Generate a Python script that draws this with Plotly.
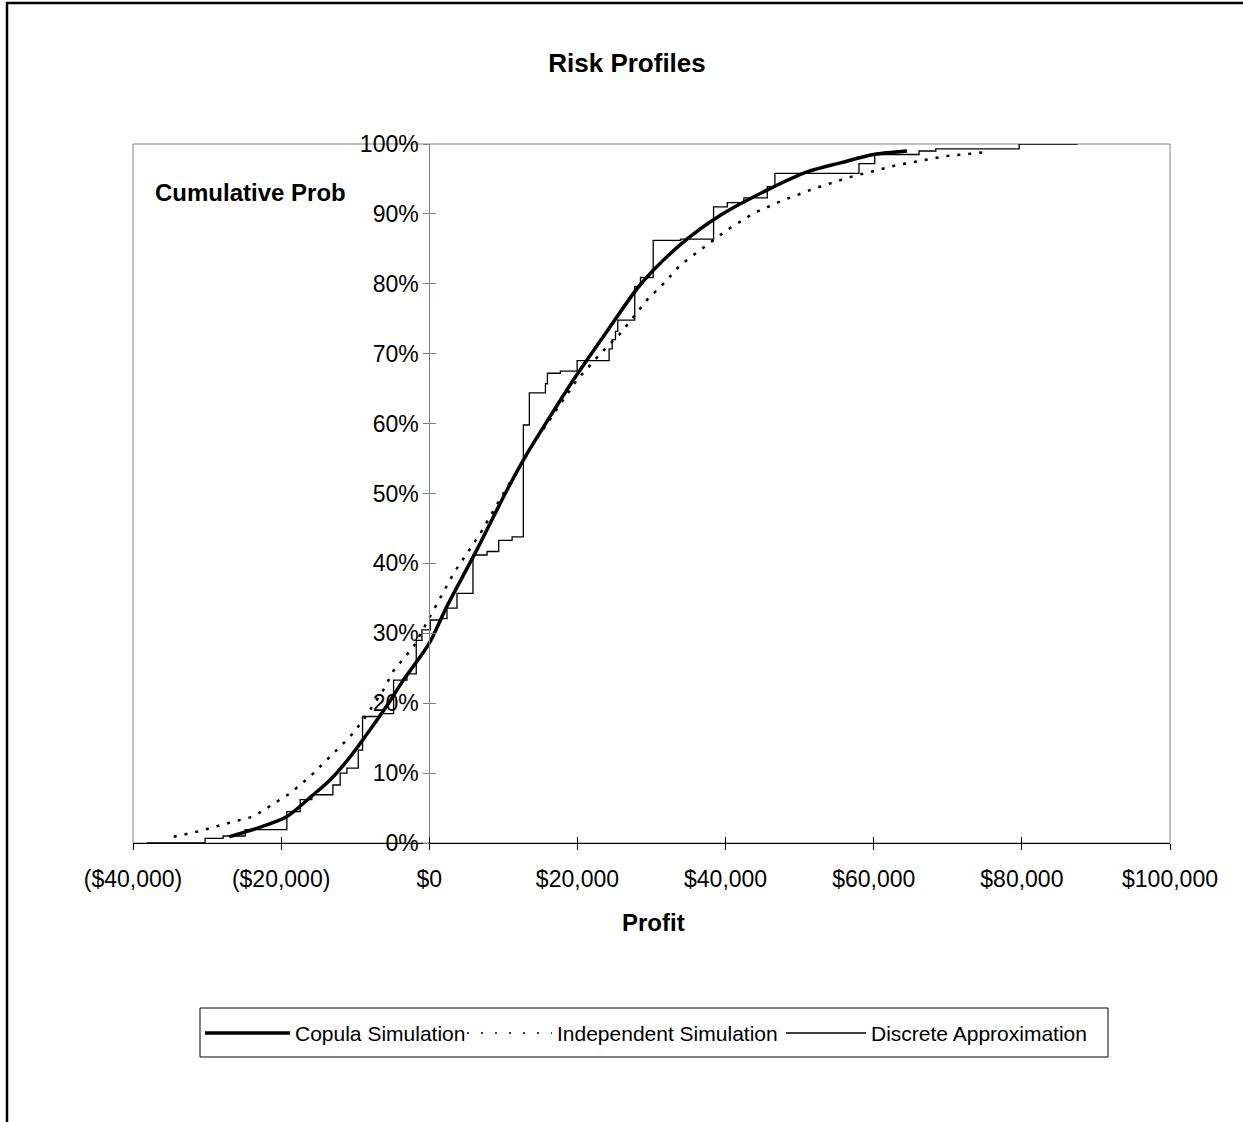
import plotly.graph_objects as go

# ---------------- data ----------------
copula_profit = [-27000, -23000, -19200, -16000, -13400, -10700, -8000, -5500, -3500, -100,
                 2400, 6400, 10500, 13200, 16000, 19500, 24000, 28500, 33900, 39300,
                 45600, 51000, 55500, 60000, 64500]
copula_prob = [0.9, 2.2, 3.8, 6.6, 9.0, 12.3, 16.2, 20.0, 23.3, 28.4,
               33.9, 41.9, 50.5, 55.7, 60.5, 66.3, 73.2, 79.9, 85.6, 89.8,
               93.4, 96.0, 97.3, 98.5, 99.0]

indep_profit = [-34500, -31400, -27300, -23700, -20600, -18800, -16100, -12900, -10700, -8900,
                -6200, -4800, -2100, 100, 3300, 6900, 10000, 14100, 19900, 23100,
                25800, 29400, 31700, 33900, 36600, 40200, 43800, 47400, 51900, 56900,
                63200, 70000, 74900]
indep_prob = [0.9, 1.6, 2.8, 3.8, 5.9, 7.1, 9.5, 12.8, 15.2, 17.6,
              21.9, 24.7, 28.1, 32.4, 38.6, 44.3, 50.0, 57.2, 66.2, 70.0,
              72.9, 77.7, 80.1, 82.7, 84.8, 87.7, 90.1, 91.8, 93.6, 95.3,
              97.0, 98.3, 98.8]

discrete_profit = [-38100, -30270, -27840, -24860, -19230, -17430, -15850, -13010, -12030, -11120,
                   -9590, -9010, -6620, -4820, -3010, -1760, -990, 135, 1490, 2390,
                   3740, 5900, 7800, 9370, 11180, 12700, 13510, 15680, 15950, 17700,
                   19960, 24280, 24690, 25140, 25450, 27740, 28510, 30230, 33920, 38380,
                   40230, 42470, 45630, 46660, 58010, 60140, 66120, 68380, 79640, 87530]
discrete_prob = [0.0, 0.67, 1.0, 1.9, 4.5, 6.2, 6.9, 8.3, 10.0, 10.7,
                 13.3, 18.1, 18.5, 23.3, 24.2, 29.0, 30.5, 31.9, 32.1, 33.6,
                 35.7, 41.2, 41.7, 43.3, 43.8, 59.8, 64.4, 65.7, 67.2, 67.5,
                 69.0, 70.7, 72.0, 73.2, 74.8, 79.6, 80.9, 86.2, 86.4, 91.0,
                 91.6, 92.3, 93.9, 95.8, 97.2, 98.5, 99.0, 99.3, 100.0, 100.0]

x_ticks = [-40000, -20000, 0, 20000, 40000, 60000, 80000, 100000]
x_tick_labels = ["($40,000)", "($20,000)", "$0", "$20,000", "$40,000", "$60,000", "$80,000", "$100,000"]
y_ticks = [0, 10, 20, 30, 40, 50, 60, 70, 80, 90, 100]
y_tick_labels = ["0%", "10%", "20%", "30%", "40%", "50%", "60%", "70%", "80%", "90%", "100%"]

series_names = ["Copula Simulation", "Independent Simulation", "Discrete Approximation"]

# ---------------- layout geometry ----------------
W, H = 1243, 1122
L, R, T, B = 133, 73, 144, 279
PW = W - L - R
PH = H - T - B
X_MIN, X_MAX = -40000, 100000


def pxx(x):
    return (x - L) / PW


def pxy(y):
    return (H - B - y) / PH


FONT = "Liberation Sans, Arial, sans-serif"
DOT = "3px,8px"

fig = go.Figure()
fig.add_trace(go.Scatter(x=copula_profit, y=copula_prob, mode="lines", name=series_names[0],
                         line=dict(color="black", width=3.5, shape="spline", smoothing=0.8),
                         showlegend=False))
fig.add_trace(go.Scatter(x=indep_profit, y=indep_prob, mode="lines", name=series_names[1],
                         line=dict(color="black", width=2.5, dash=DOT),
                         showlegend=False))
fig.add_trace(go.Scatter(x=discrete_profit, y=discrete_prob, mode="lines", name=series_names[2],
                         line=dict(color="black", width=1.3, shape="hv"),
                         showlegend=False))

yaxis_pos = (0 - X_MIN) / (X_MAX - X_MIN)

fig.update_layout(
    width=W, height=H,
    margin=dict(l=L, r=R, t=T, b=B, pad=0),
    paper_bgcolor="white", plot_bgcolor="white",
    font=dict(family=FONT, color="black", size=23),
    xaxis=dict(range=[X_MIN, X_MAX], tickvals=x_ticks, ticktext=x_tick_labels,
               showgrid=False, zeroline=False, showline=True, linecolor="black", linewidth=1,
               ticks="outside", ticklen=6, tickcolor="black", tickwidth=1,
               tickfont=dict(size=23, family=FONT), ticklabelstandoff=9),
    yaxis=dict(range=[0, 100], tickvals=y_ticks, ticktext=y_tick_labels,
               showgrid=False, zeroline=False, showline=True, linecolor="#808080", linewidth=1,
               ticks="outside", ticklen=6, tickcolor="#808080", tickwidth=1,
               anchor="free", position=yaxis_pos,
               tickfont=dict(size=23, family=FONT)),
    xaxis2=dict(range=[X_MIN, X_MAX], tickvals=x_ticks, overlaying="x", anchor="y", side="bottom",
                showgrid=False, zeroline=False, showline=False, showticklabels=False,
                ticks="inside", ticklen=6, tickcolor="black", tickwidth=1),
    yaxis2=dict(range=[0, 100], tickvals=y_ticks, overlaying="y", anchor="free", position=yaxis_pos,
                showgrid=False, zeroline=False, showline=False, showticklabels=False,
                ticks="inside", ticklen=6, tickcolor="#808080", tickwidth=1),
    title=dict(text="<b>Risk Profiles</b>", x=627 / W, xanchor="center", xref="container",
               y=1 - 63 / H, yanchor="middle", yref="container",
               font=dict(size=26, family=FONT)),
    showlegend=False,
)
# empty trace so the overlay (crossing-tick) axes are drawn
fig.add_trace(go.Scatter(x=[None], y=[None], xaxis="x2", yaxis="y2", showlegend=False, hoverinfo="skip"))

shapes = []
# plot area border (gray)
shapes.append(dict(type="rect", xref="paper", yref="paper", x0=0, x1=1, y0=0, y1=1,
                   line=dict(color="#808080", width=1), layer="below"))
# outer chart frame: left and top edges
shapes.append(dict(type="path", xref="paper", yref="paper",
                   path=f"M {pxx(7)},{pxy(H + 5)} L {pxx(7)},{pxy(3)} L {pxx(W + 5)},{pxy(3)}",
                   line=dict(color="black", width=2.5)))
# legend box
shapes.append(dict(type="rect", xref="paper", yref="paper",
                   x0=pxx(200), x1=pxx(1108), y0=pxy(1057), y1=pxy(1008),
                   line=dict(color="black", width=1), fillcolor="white"))
leg_y = pxy(1033)
shapes.append(dict(type="line", xref="paper", yref="paper", x0=pxx(205), x1=pxx(290), y0=leg_y, y1=leg_y,
                   line=dict(color="black", width=3.5)))
shapes.append(dict(type="line", xref="paper", yref="paper", x0=pxx(467), x1=pxx(552), y0=leg_y, y1=leg_y,
                   line=dict(color="black", width=1.5, dash="2px,12px")))
shapes.append(dict(type="line", xref="paper", yref="paper", x0=pxx(786), x1=pxx(866), y0=leg_y, y1=leg_y,
                   line=dict(color="black", width=1.3)))
fig.update_layout(shapes=shapes)

annots = [
    dict(text="<b>Cumulative Prob</b>", x=pxx(153), y=pxy(192), xanchor="left", yanchor="middle",
         font=dict(size=24, family=FONT)),
    dict(text="<b>Profit</b>", x=pxx(653), y=pxy(922), xanchor="center", yanchor="middle",
         font=dict(size=24, family=FONT)),
    dict(text=series_names[0], x=pxx(293), y=leg_y, xanchor="left", yanchor="middle",
         font=dict(size=21, family=FONT)),
    dict(text=series_names[1], x=pxx(555), y=leg_y, xanchor="left", yanchor="middle",
         font=dict(size=21, family=FONT)),
    dict(text=series_names[2], x=pxx(869), y=leg_y, xanchor="left", yanchor="middle",
         font=dict(size=21, family=FONT)),
]
for a in annots:
    a.update(xref="paper", yref="paper", showarrow=False)
fig.update_layout(annotations=annots)

fig.write_html("out.html", config={"displayModeBar": False},
               post_script="document.body.style.margin='0';")
